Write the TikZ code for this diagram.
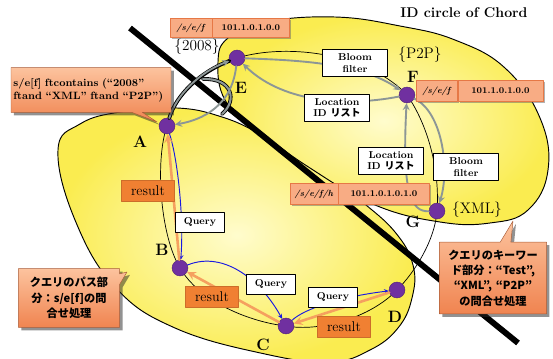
\documentclass[tikz,border=0pt]{standalone}
\usepackage{fontspec}
\newfontfamily\jp{Noto Sans CJK JP}
\usetikzlibrary{positioning,shapes.callouts,shadows}
\definecolor{areaedge}{RGB}{250,236,80}
\definecolor{areacore}{RGB}{255,252,205}
\definecolor{peerfill}{RGB}{112,48,160}
\definecolor{resultfill}{RGB}{240,128,50}
\definecolor{resultline}{RGB}{245,160,95}
\definecolor{queryline}{RGB}{25,25,225}
\definecolor{listline}{RGB}{140,150,150}
\definecolor{addrfill}{RGB}{248,172,132}
\definecolor{addrline}{RGB}{230,120,70}
\definecolor{notelight}{RGB}{252,195,158}
\definecolor{notedark}{RGB}{240,132,80}
\pgfdeclarelayer{bg}
\pgfsetlayers{bg,main}
\tikzset{
  peer/.style={circle,fill=peerfill,draw=peerfill!75!black,inner sep=0pt,minimum size=13.5pt},
  peername/.style={font=\fontsize{14}{16}\selectfont\bfseries},
  keyword/.style={font=\fontsize{13}{15}\selectfont},
  infobox/.style={draw,thick,fill=white,align=center,inner sep=1pt,minimum width=56pt,minimum height=23pt,font=\fontsize{8.5}{9.5}\selectfont\bfseries},
  querybox/.style={draw,thick,fill=white,inner sep=1pt,minimum width=42pt,minimum height=17pt,font=\fontsize{8.5}{9.5}\selectfont\bfseries},
  resultbox/.style={fill=resultfill,draw=resultfill!85!black,inner sep=1pt,minimum width=45pt,minimum height=18pt,font=\fontsize{12}{13}\selectfont},
  addrcell/.style={fill=addrfill,draw=addrline,inner sep=1pt,minimum height=16pt,font=\fontsize{7.5}{8}\selectfont\bfseries,drop shadow={shadow xshift=1.5pt,shadow yshift=-1.5pt,fill=black!60}},
  note/.style={rectangle callout,draw=notedark!70!black,top color=notelight,bottom color=notedark,callout pointer width=9pt,drop shadow={shadow xshift=2.5pt,shadow yshift=-2.5pt,fill=black!85},inner sep=2pt},
  ring/.style={black,semithick},
  querylink/.style={->,thick,draw=queryline},
  resultlink/.style={->,line width=2.2pt,draw=resultline},
  listlink/.style={->,line width=1.6pt,draw=listline},
}
\begin{document}
\begin{tikzpicture}[x=0.85pt,y=-0.85pt,>=stealth,line cap=round,line join=round]
\clip (0,0) rectangle (553,359);
% peers on the ring
\node[peer] (A) at (167,126) {};
\node[peer] (E) at (237,58) {};
\node[peer] (F) at (407,95) {};
\node[peer] (G) at (437,211) {};
\node[peer] (D) at (397,290) {};
\node[peer] (C) at (286,326) {};
\node[peer] (B) at (180,268) {};
\begin{pgfonlayer}{bg}
\shadedraw[thick,inner color=areacore,outer color=areaedge] plot[smooth cycle,tension=.7] coordinates {(58,150) (80,124) (120,112) (177,108) (222,117) (262,135) (320,168) (360,200) (395,232) (413,265) (412,298) (398,328) (370,350) (330,362) (265,354) (175,328) (115,287) (75,220)};
\shadedraw[thick,inner color=areacore,outer color=areaedge] plot[smooth cycle,tension=.7] coordinates {(218,62) (228,38) (265,22) (335,17) (400,26) (455,40) (505,68) (540,118) (548,170) (528,210) (490,223) (440,222) (375,205) (310,168) (255,128) (225,100)};
\draw[line width=5pt] (130,28) -- (518,343);
\draw[ring] (A.center) .. controls (176,95) and (200,72) .. (E.center)
  .. controls (290,42) and (370,55) .. (F.center)
  .. controls (428,125) and (440,170) .. (G.center)
  .. controls (435,240) and (415,272) .. (D.center)
  .. controls (370,318) and (320,332) .. (C.center)
  .. controls (250,322) and (200,302) .. (B.center)
  .. controls (160,235) and (155,160) .. (A.center);
\end{pgfonlayer}
% links between peers
\draw[line width=3.2pt] (A) .. controls (176,95) and (200,72) .. (E);
\draw[listlink] (A) .. controls (176,95) and (200,72) .. (E);
\draw[line width=3.2pt] (203,79) .. controls (232,78) and (238,100) .. (222,114);
\draw[line width=1.8pt,listline] (203,79) .. controls (232,78) and (238,100) .. (222,114);
\draw[listlink] (E) .. controls (233,98) and (212,118) .. (A);
\draw[listlink] (E) .. controls (290,60) and (360,62) .. (F);
\draw[listlink] (F) .. controls (340,108) and (280,100) .. (E);
\draw[listlink] (F) .. controls (442,112) and (450,168) .. (G);
\draw[listlink] (G) .. controls (410,212) and (402,190) .. (F);
\draw[querylink] (A) .. controls (178,160) and (184,220) .. (B);
\draw[querylink] (B) .. controls (225,250) and (262,282) .. (C);
\draw[querylink] (C) .. controls (305,308) and (345,296) .. (D);
\draw[resultlink] (B) -- (A);
\draw[resultlink] (C) -- (B);
\draw[resultlink] (D) -- (C);
% labels
\node[font=\fontsize{12}{14}\selectfont\bfseries] (title) at (464,13) {ID circle of Chord};
\node[peername] (Aname) at (140,142) {A};
\node[peername] (Bname) at (162,250) {B};
\node[peername] (Cname) at (263,345) {C};
\node[peername] (Dname) at (395,317) {D};
\node[peername] (Ename) at (241,88) {E};
\node[peername] (Fname) at (413,77) {F};
\node[peername] (Gname) at (413,222) {G};
\node[keyword] (kw2008) at (197,47) {\{2008\}};
\node[keyword] (kwp2p) at (420,55) {\{P2P\}};
\node[keyword] (kwxml) at (477,210) {\{XML\}};
\node[infobox] (bloomEF) at (355,63) {Bloom\\filter};
\node[infobox] (listFE) at (337,108) {Location\\ID {\jp リスト}};
\node[infobox] (listGF) at (391,161) {Location\\ID {\jp リスト}};
\node[infobox] (bloomFG) at (466,167) {Bloom\\filter};
\node[querybox] (queryAB) at (200,222) {Query};
\node[querybox] (queryBC) at (271,284) {Query};
\node[querybox] (queryCD) at (333,297) {Query};
\node[resultbox] (resultBA) at (148,191) {result};
\node[resultbox] (resultCB) at (212,297) {result};
\node[resultbox] (resultDC) at (344,327) {result};
% addresses
\node[addrcell,minimum width=36pt] (epath) at (191,28) {\textit{/s/e/f}};
\node[addrcell,minimum width=65pt,right=0pt of epath] (eid) {101.1.0.1.0.0};
\node[addrcell,minimum width=35pt,minimum height=18pt] (fpath) at (437,91) {\textit{/s/e/f}};
\node[addrcell,minimum width=72pt,minimum height=18pt,right=0pt of fpath] (fid) {101.1.0.1.0.0};
\node[addrcell,minimum width=41pt,minimum height=18pt] (gpath) at (314,194) {\textit{/s/e/f/h}};
\node[addrcell,minimum width=77pt,minimum height=18pt,right=0pt of gpath] (gid) {101.1.0.1.0.1.0};
% notes
\node[note,text width=132pt,minimum height=38pt,align=left,font=\fontsize{9}{11}\selectfont\bfseries,callout absolute pointer={(157,122)}] (querynote) at (91,90) {s/e[f] ftcontains (“2008”\\ftand “XML” ftand “P2P”)};
\node[note,text width=82pt,minimum height=50pt,align=center,font=\jp\bfseries\fontsize{9.5}{13}\selectfont,callout absolute pointer={(127,272)}] (pathnote) at (69,298) {クエリのパス部\\分：s/e[f]の問\\合せ処理};
\node[note,text width=87pt,minimum height=61pt,align=center,font=\jp\bfseries\fontsize{9.5}{13}\selectfont,callout absolute pointer={(513,221)}] (keynote) at (493,278) {クエリのキーワー\\ド部分：“Test”,\\“XML”, “P2P”\\の問合せ処理};
\end{tikzpicture}
\end{document}
